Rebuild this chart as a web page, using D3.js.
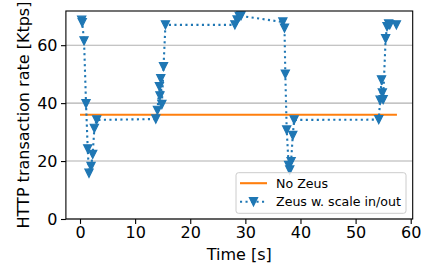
<!DOCTYPE html>
<html>
<head>
<meta charset="utf-8">
<script src="https://cdn.jsdelivr.net/npm/d3@7"></script>
<style>
  html, body { margin: 0; padding: 0; background: #fff; }
  svg { display: block; font-family: "DejaVu Sans", sans-serif; }
</style>
</head>
<body>
<div id="chart"></div>
<script>
// values
const zeusTime = [
  0.3, 0.4, 0.73, 1.09, 1.4, 1.63, 2.0, 2.3, 2.6, 3.03,
  13.75, 14.05, 14.4, 14.5, 14.65, 14.85, 15.15, 15.5,
  28.1, 28.5, 28.9, 29.2, 36.8, 37.1, 37.25, 37.5, 37.85, 38.05, 38.3, 38.6, 38.85,
  54.2, 54.45, 54.7, 54.85, 55.0, 55.45, 55.7, 56.0, 56.2, 57.4
];
const zeusRate = [
  68.6, 67.8, 61.5, 39.8, 24.2, 15.8, 18.1, 22.3, 31.3, 34.2,
  34.5, 37.5, 45.7, 42.5, 48.4, 39.5, 52.6, 67.0,
  67.0, 68.7, 69.9, 70.1, 68.0, 65.9, 50.0, 30.7, 18.5, 16.9, 19.8, 28.8, 34.2,
  34.3, 41.0, 48.0, 43.5, 41.2, 62.2, 66.4, 67.3, 67.0, 67.0
];
const noZeusTime = [0, 57.5];
const noZeusRate = [36, 36];
const xTicks = [0, 10, 20, 30, 40, 50, 60];
const yTicks = [0, 20, 40, 60];
const seriesNames = ["No Zeus", "Zeus w. scale in/out"];

const width = 428, height = 267;
const margin = { top: 11, right: 15.3, bottom: 48, left: 65.9 };
const innerW = width - margin.left - margin.right;
const innerH = height - margin.top - margin.bottom;

const blue = "#1f77b4", orange = "#ff7f0e";
const fontSize = 16;

const svg = d3.select("#chart").append("svg")
  .attr("width", width)
  .attr("height", height);

const g = svg.append("g")
  .attr("transform", `translate(${margin.left},${margin.top})`);

const x = d3.scaleLinear().domain([-2.56, 60.36]).range([0, innerW]);
const y = d3.scaleLinear().domain([0, 71.8]).range([innerH, 0]);

// horizontal grid
g.selectAll("line.grid")
  .data(yTicks)
  .enter().append("line")
  .attr("class", "grid")
  .attr("x1", 0).attr("x2", innerW)
  .attr("y1", d => y(d)).attr("y2", d => y(d))
  .attr("stroke", "#b0b0b0")
  .attr("stroke-width", 1.1);

const noZeus = noZeusTime.map((t, i) => ({ t, v: noZeusRate[i] }));
const zeus = zeusTime.map((t, i) => ({ t, v: zeusRate[i] }));

const line = d3.line().x(d => x(d.t)).y(d => y(d.v));

g.append("path")
  .datum(noZeus)
  .attr("fill", "none")
  .attr("stroke", orange)
  .attr("stroke-width", 2.1)
  .attr("d", line);

g.append("path")
  .datum(zeus)
  .attr("fill", "none")
  .attr("stroke", blue)
  .attr("stroke-width", 2.1)
  .attr("stroke-dasharray", "2.1,3.4")
  .attr("d", line);

// triangle-down marker
const tri = s => `M${-s},${-s}L${s},${-s}L0,${s}Z`;

g.selectAll("path.pt")
  .data(zeus)
  .enter().append("path")
  .attr("class", "pt")
  .attr("transform", d => `translate(${x(d.t)},${y(d.v)})`)
  .attr("d", tri(4.1))
  .attr("fill", blue)
  .attr("stroke", blue)
  .attr("stroke-width", 1.2);

// frame
g.append("rect")
  .attr("width", innerW).attr("height", innerH)
  .attr("fill", "none")
  .attr("stroke", "#000")
  .attr("stroke-width", 1.1);

// axes
const xAxis = d3.axisBottom(x).tickValues(xTicks).tickSize(4.9).tickPadding(2.5);
const yAxis = d3.axisLeft(y).tickValues(yTicks).tickSize(4.9).tickPadding(3.5);

const gx = g.append("g")
  .attr("transform", `translate(0,${innerH})`)
  .call(xAxis);
const gy = g.append("g").call(yAxis);

[gx, gy].forEach(a => {
  a.select(".domain").remove();
  a.selectAll(".tick line").attr("stroke", "#000").attr("stroke-width", 1.1);
  a.selectAll(".tick text")
    .attr("fill", "#000")
    .attr("font-size", fontSize)
    .attr("font-family", "DejaVu Sans, sans-serif");
});

// axis labels
g.append("text")
  .attr("x", innerW / 2)
  .attr("y", innerH + 41)
  .attr("text-anchor", "middle")
  .attr("font-size", fontSize)
  .text("Time [s]");

g.append("text")
  .attr("transform", "rotate(-90)")
  .attr("x", -innerH / 2)
  .attr("y", -37)
  .attr("text-anchor", "middle")
  .attr("font-size", fontSize)
  .text("HTTP transaction rate [Ktps]");

// legend
const lg = svg.append("g").attr("transform", "translate(236,172.7)");
lg.append("rect")
  .attr("width", 170).attr("height", 40.6)
  .attr("rx", 2.5)
  .attr("fill", "#fff").attr("fill-opacity", 0.8)
  .attr("stroke", "#cccccc")
  .attr("stroke-width", 1);

const rows = [
  { name: seriesNames[0], color: orange, dashed: false, yy: 10.5 },
  { name: seriesNames[1], color: blue, dashed: true, yy: 29 }
];
rows.forEach(r => {
  lg.append("line")
    .attr("x1", 4).attr("x2", 31)
    .attr("y1", r.yy).attr("y2", r.yy)
    .attr("stroke", r.color)
    .attr("stroke-width", 2.1)
    .attr("stroke-dasharray", r.dashed ? "2.1,3.4" : null);
  if (r.dashed) {
    lg.append("path")
      .attr("transform", `translate(17.5,${r.yy})`)
      .attr("d", tri(4.1))
      .attr("fill", r.color)
      .attr("stroke", r.color)
      .attr("stroke-width", 1.2);
  }
  lg.append("text")
    .attr("x", 40)
    .attr("y", r.yy)
    .attr("dy", "0.35em")
    .attr("font-size", 12.6)
    .text(r.name);
});
</script>
</body>
</html>
